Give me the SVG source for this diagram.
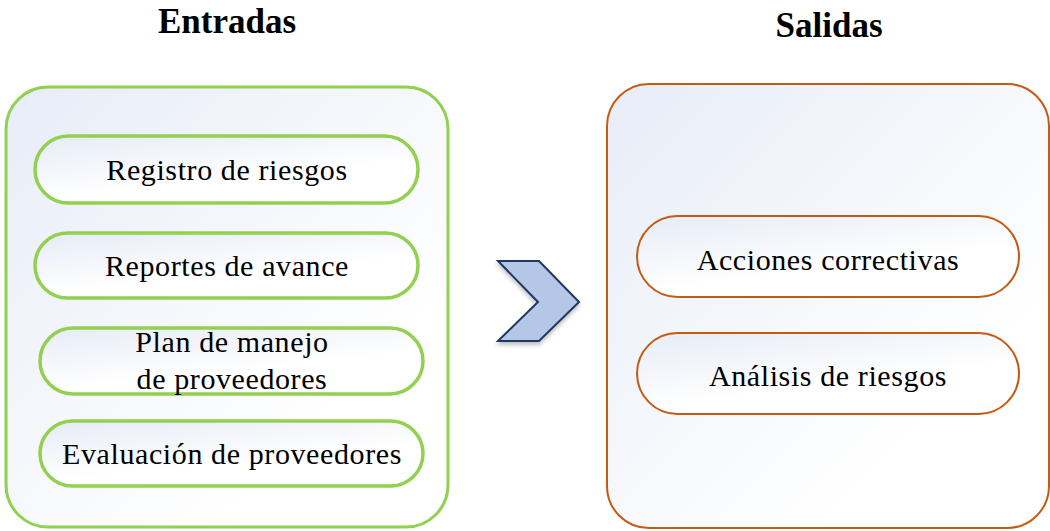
<svg xmlns="http://www.w3.org/2000/svg" width="1050" height="531" viewBox="0 0 1050 531">
<defs>
<linearGradient id="bg" x1="0" y1="0" x2="1" y2="1">
<stop offset="0" stop-color="#e7ecf7"/>
<stop offset="0.75" stop-color="#ffffff"/>
</linearGradient>
<linearGradient id="pg" x1="0" y1="0" x2="0.6" y2="1">
<stop offset="0" stop-color="#e6ebf6"/>
<stop offset="0.7" stop-color="#ffffff"/>
</linearGradient>
<filter id="sh" x="-20%" y="-20%" width="140%" height="140%">
<feGaussianBlur in="SourceAlpha" stdDeviation="2"/>
<feOffset dx="0" dy="3"/>
<feComponentTransfer><feFuncA type="linear" slope="0.25"/></feComponentTransfer>
<feMerge><feMergeNode/><feMergeNode in="SourceGraphic"/></feMerge>
</filter>
</defs>
<style>
.title{font-family:"Liberation Serif","Times New Roman",serif;font-weight:bold;font-size:35px;fill:#000;text-anchor:middle}
.lbl{font-family:"Liberation Serif","Times New Roman",serif;font-size:30px;letter-spacing:0.6px;fill:#000;text-anchor:middle}
.gbox{fill:url(#bg);stroke:#92d050;stroke-width:3}
.obox{fill:url(#bg);stroke:#c55a11;stroke-width:2}
.gpill{fill:url(#pg);stroke:#92d050;stroke-width:3.5}
.opill{fill:url(#pg);stroke:#c55a11;stroke-width:2}
</style>
<rect width="1050" height="531" fill="#ffffff"/>
<text class="title" x="227" y="33">Entradas</text>
<text class="title" x="829" y="37">Salidas</text>
<g id="entradas">
<rect class="gbox" x="6" y="87" width="442" height="440" rx="42"/>
</g>
<g id="salidas">
<rect class="obox" x="607" y="84" width="442" height="444" rx="42"/>
</g>
<g id="registro">
<rect class="gpill" x="35" y="136" width="383" height="67" rx="33.5"/>
<text class="lbl" x="227" y="180">Registro de riesgos</text>
</g>
<g id="reportes">
<rect class="gpill" x="35" y="233" width="383" height="65" rx="32.5"/>
<text class="lbl" x="227" y="276">Reportes de avance</text>
</g>
<g id="plan">
<rect class="gpill" x="40" y="328" width="383" height="66" rx="33"/>
<text class="lbl" x="232" y="352">Plan de manejo</text>
<text class="lbl" x="232" y="389">de proveedores</text>
</g>
<g id="evaluacion">
<rect class="gpill" x="40" y="421" width="383" height="65" rx="32.5"/>
<text class="lbl" x="232" y="464">Evaluación de proveedores</text>
</g>
<g id="acciones">
<rect class="opill" x="637" y="216" width="382" height="81" rx="40.5"/>
<text class="lbl" x="828" y="270">Acciones correctivas</text>
</g>
<g id="analisis">
<rect class="opill" x="637" y="333" width="382" height="81" rx="40.5"/>
<text class="lbl" x="828" y="386">Análisis de riesgos</text>
</g>
<g id="connectors">
<polygon points="498,261 539,261 579,302 539,341 498,341 538,302" fill="#b4c7e7" stroke="#1f3864" stroke-width="2" stroke-linejoin="miter" filter="url(#sh)"/>
</g>
</svg>
